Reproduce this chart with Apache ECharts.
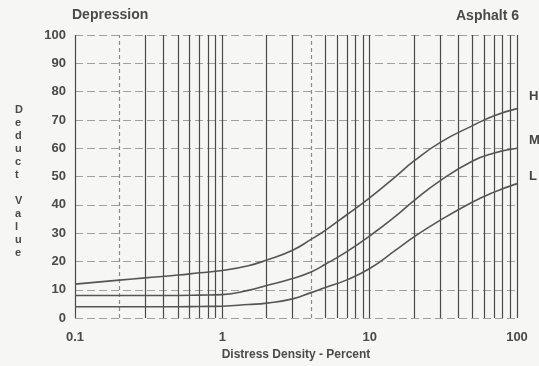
<!DOCTYPE html>
<html>
<head>
<meta charset="utf-8">
<script src="https://cdn.jsdelivr.net/npm/echarts@6/dist/echarts.min.js"></script>
<style>
html,body{margin:0;padding:0;background:#f6f6f4;}
#chart{width:539px;height:366px;}
</style>
</head>
<body>
<div id="chart"></div>
<script>
// Distress density (percent) sample points
var density = [0.1, 0.2, 0.3, 0.5, 0.7, 1, 1.5, 2, 3, 4, 5, 7, 10, 15, 20, 30, 50, 70, 100];
// Deduct values per severity
var highVals = [12, 13.4, 14.2, 15.2, 16, 16.8, 18.5, 20.5, 24, 27.8, 31, 36.5, 42.5, 50, 55.5, 62, 68, 71.5, 74];
var medVals  = [8, 8, 8, 8, 8.1, 8.3, 9.8, 11.5, 14, 16.3, 19, 23.5, 29, 36, 41.5, 48.5, 55.5, 58.3, 60];
var lowVals  = [4, 4, 4, 4, 4.1, 4.2, 4.8, 5.3, 6.8, 9, 10.8, 13.5, 17.5, 24, 28.7, 34.5, 41, 44.5, 47.5];
// Vertical log grid lines
var gridX = [0.1,0.2,0.3,0.4,0.5,0.6,0.7,0.8,0.9,1,2,3,4,5,6,7,8,9,10,20,30,40,50,60,70,80,90,100];
var dashedX = [0.2, 4];
var severityNames = ['H', 'M', 'L'];
var titleLeft = 'Depression';
var titleRight = 'Asphalt 6';
var xName = 'Distress Density - Percent';
var yName = 'Deduct Value';

var FONT = '"Liberation Sans", Arial, sans-serif';
var INK = '#4a4a4a';

function pairs(vals) {
  return density.map(function (d, i) { return [d, vals[i]]; });
}

var vLines = gridX.map(function (v) {
  var dashed = dashedX.indexOf(v) >= 0;
  return {
    xAxis: v,
    lineStyle: { color: dashed ? '#8a8a8a' : '#4a4a4a', width: 1.2, type: dashed ? [4, 3] : 'solid' }
  };
});

function curve(name, vals, offY, withLines) {
  var s = {
    name: name,
    type: 'line',
    data: pairs(vals),
    smooth: 0.5,
    showSymbol: false,
    symbol: 'none',
    lineStyle: { color: '#555', width: 1.6 },
    z: 5,
    endLabel: {
      show: true,
      formatter: name,
      offset: [4, offY],
      color: '#444',
      fontFamily: FONT,
      fontWeight: 'bold',
      fontSize: 13
    },
    silent: true
  };
  if (withLines) {
    s.markLine = {
      silent: true,
      symbol: ['none', 'none'],
      label: { show: false },
      animation: false,
      data: vLines,
      z: 2
    };
  }
  return s;
}

var chart = echarts.init(document.getElementById('chart'), null, { renderer: 'canvas' });
chart.setOption({
  backgroundColor: '#f6f6f4',
  animation: false,
  grid: { left: 75, right: 22, top: 35, bottom: 44 },
  xAxis: {
    type: 'log',
    logBase: 10,
    min: 0.1,
    max: 100,
    name: xName,
    nameLocation: 'middle',
    nameGap: 29,
    nameTextStyle: { color: INK, fontFamily: FONT, fontWeight: 'bold', fontSize: 12 },
    axisLine: { show: false },
    axisTick: { show: false },
    splitLine: { show: false },
    axisLabel: {
      color: INK, fontFamily: FONT, fontWeight: 'bold', fontSize: 13, margin: 13,
      formatter: function (v) { return String(v); }
    }
  },
  yAxis: {
    type: 'value',
    min: 0,
    max: 100,
    interval: 10,
    axisLine: { show: false },
    axisTick: { show: false },
    axisLabel: { color: INK, fontFamily: FONT, fontWeight: 'bold', fontSize: 13, margin: 9 },
    splitLine: { show: true, lineStyle: { color: '#a0a0a0', width: 1, type: [8, 4] } }
  },
  graphic: [
    { type: 'text', left: 72, top: 8, style: { text: titleLeft, fill: INK, font: 'bold 14px ' + FONT } },
    { type: 'text', right: 20, top: 9, style: { text: titleRight, fill: INK, font: 'bold 14px ' + FONT } },
    { type: 'text', left: 15, top: 103, style: { text: yName.split('').join('\n'), fill: INK, font: 'bold 11px ' + FONT, lineHeight: 13, align: 'center', x: 6 } }
  ],
  series: [
    curve(severityNames[0], highVals, -12, true),
    curve(severityNames[1], medVals, -8, false),
    curve(severityNames[2], lowVals, -7, false)
  ]
});
</script>
</body>
</html>
